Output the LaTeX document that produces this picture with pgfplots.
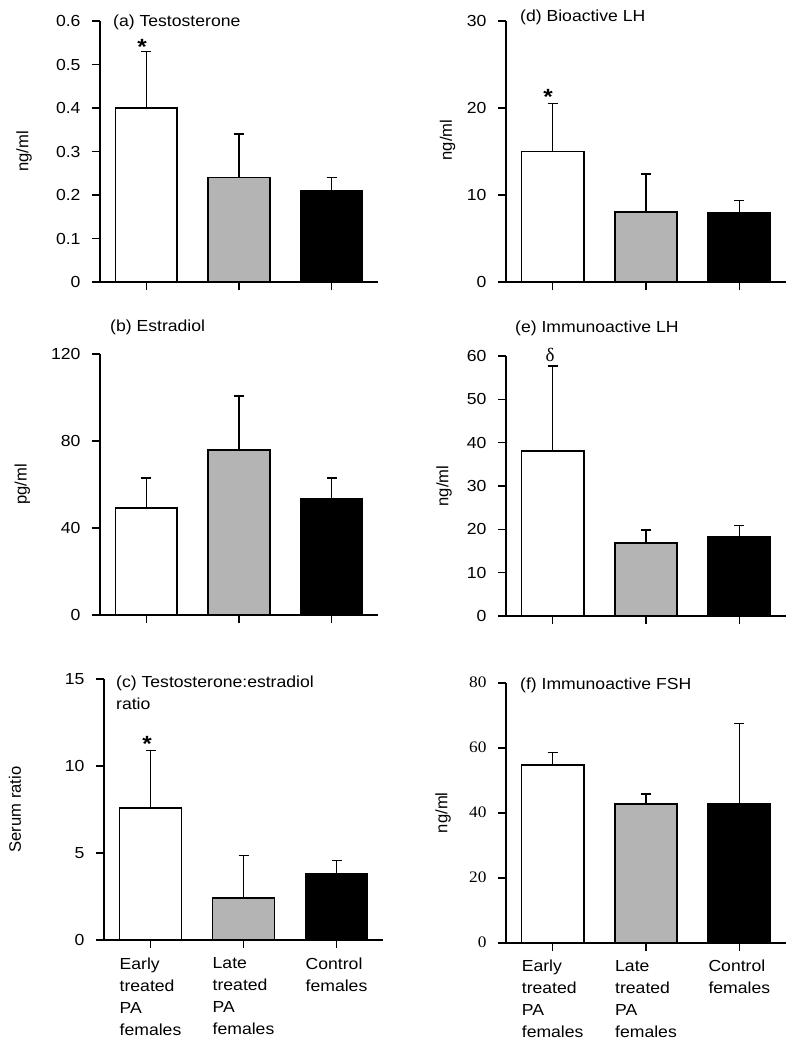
\documentclass[border=0pt]{standalone}
\usepackage{pgfplots}
\pgfplotsset{compat=1.18}
\usepackage{fontspec}
\setmainfont{Liberation Sans}[FakeStretch=1.1]
\newfontfamily\plainsans{Liberation Sans}
\newfontfamily\serifst{Liberation Serif}[FakeStretch=1.08]
\newfontfamily\serifplain{Liberation Serif}
\newcommand\fs{\fontsize{16}{22}\selectfont}
\definecolor{midgray}{RGB}{180,180,180}
\pgfplotsset{
 panel/.style={
  scale only axis, anchor=south west,
  xmin=-0.5, xmax=2.5, ymin=0,
  axis x line*=bottom, axis y line*=left,
  axis line style={-, line width=1.6pt, black},
  xtick={0,1,2}, xticklabels={,,},
  tick align=outside, major tick length=8pt,
  tick style={black, line width=1.6pt},
  ticklabel style={font=\fs},
  yticklabel style={xshift=-8pt},
  label style={font=\plainsans\fontsize{16.6}{20}\selectfont},
  ybar, bar width=0.667, bar shift=0pt,
  clip=false,
 },
 bb/.style={fill=#1, draw=black, line width=1.6pt,
  error bars/.cd, y dir=plus, y explicit,
  error bar style={line width=1.6pt, black},
  error mark options={rotate=90, black, mark size=5pt, line width=1.6pt}},
 botlabels/.style={xticklabels={{Early\\treated\\PA\\females},{Late\\treated\\PA\\females},{Control\\females}},
  xticklabel style={align=left, anchor=north, font=\fs, yshift=-6pt}},
}
\begin{document}
\begin{tikzpicture}
\useasboundingbox (0,0) rectangle (797pt,-1050pt);
% (a)
\begin{axis}[panel, at={(100pt,-282pt)}, width=278pt, height=261pt,
  ymax=0.6, ytick={0,0.1,0.2,0.3,0.4,0.5,0.6}, yticklabels={0,0.1,0.2,0.3,0.4,0.5,0.6},
  ylabel={ng/ml}, ylabel style={at={(axis description cs:-0.273,0.5)}, anchor=center}]
\addplot[bb=white] coordinates {(0,0.40) +- (0,0.13)};
\addplot[bb=midgray] coordinates {(1,0.24) +- (0,0.10)};
\addplot[bb=black] coordinates {(2,0.21) +- (0,0.03)};
\draw[line width=1.6pt] (rel axis cs:0,0) -- ++(-8pt,0);
\end{axis}
% (b)
\begin{axis}[panel, at={(100pt,-615pt)}, width=278pt, height=261pt,
  ymax=120, ytick={0,40,80,120}, yticklabels={0,40,80,120},
  ylabel={pg/ml}, ylabel style={at={(axis description cs:-0.279,0.5)}, anchor=center}]
\addplot[bb=white] coordinates {(0,49.3) +- (0,13.8)};
\addplot[bb=midgray] coordinates {(1,75.9) +- (0,24.8)};
\addplot[bb=black] coordinates {(2,53.3) +- (0,9.8)};
\draw[line width=1.6pt] (rel axis cs:0,0) -- ++(-8pt,0);
\end{axis}
% (c)
\begin{axis}[panel, botlabels, at={(104pt,-940pt)}, width=279pt, height=261pt,
  ymax=15, ytick={0,5,10,15}, yticklabels={0,5,10,15},
  ylabel={Serum ratio}, ylabel style={at={(axis description cs:-0.319,0.5)}, anchor=center}]
\addplot[bb=white] coordinates {(0,7.6) +- (0,3.3)};
\addplot[bb=midgray] coordinates {(1,2.4) +- (0,2.45)};
\addplot[bb=black] coordinates {(2,3.78) +- (0,0.8)};
\draw[line width=1.6pt] (rel axis cs:0,0) -- ++(-8pt,0);
\end{axis}
% (d)
\begin{axis}[panel, at={(506pt,-282pt)}, width=280pt, height=261pt,
  ymax=30, ytick={0,10,20,30}, yticklabels={0,10,20,30},
  ylabel={ng/ml}, ylabel style={at={(axis description cs:-0.209,0.544)}, anchor=center}]
\addplot[bb=white] coordinates {(0,15.0) +- (0,5.5)};
\addplot[bb=midgray] coordinates {(1,8.05) +- (0,4.35)};
\addplot[bb=black] coordinates {(2,7.95) +- (0,1.4)};
\draw[line width=1.6pt] (rel axis cs:0,0) -- ++(-8pt,0);
\end{axis}
% (e)
\begin{axis}[panel, at={(506pt,-616pt)}, width=280pt, height=260pt,
  ymax=60, ytick={0,10,20,30,40,50,60}, yticklabels={0,10,20,30,40,50,60},
  ylabel={ng/ml}, ylabel style={at={(axis description cs:-0.221,0.5)}, anchor=center}]
\addplot[bb=white] coordinates {(0,38.1) +- (0,19.6)};
\addplot[bb=midgray] coordinates {(1,16.9) +- (0,2.9)};
\addplot[bb=black] coordinates {(2,18.3) +- (0,2.6)};
\draw[line width=1.6pt] (rel axis cs:0,0) -- ++(-8pt,0);
\end{axis}
% (f)
\begin{axis}[panel, botlabels, at={(506pt,-942.7pt)}, width=280pt, height=260pt,
  ymax=80, ytick={0,20,40,60,80}, yticklabels={0,20,40,60,80},
  yticklabel style={font=\serifst\fs},
  ylabel={ng/ml}, ylabel style={at={(axis description cs:-0.225,0.5)}, anchor=center}]
\addplot[bb=white] coordinates {(0,54.7) +- (0,3.8)};
\addplot[bb=midgray] coordinates {(1,42.7) +- (0,3.0)};
\addplot[bb=black] coordinates {(2,42.7) +- (0,24.7)};
\draw[line width=1.6pt] (rel axis cs:0,0) -- ++(-8pt,0);
\end{axis}
% titles
\begin{scope}[every node/.style={font=\fs, inner sep=0pt, anchor=base west}]
\node at (113pt,-26pt) {(a) Testosterone};
\node at (520pt,-21pt) {(d) Bioactive LH};
\node at (110pt,-331pt) {(b) Estradiol};
\node at (515pt,-332.7pt) {(e) Immunoactive LH};
\node at (116pt,-687pt) {(c) Testosterone:estradiol};
\node at (116pt,-709pt) {ratio};
\node at (520pt,-689pt) {(f) Immunoactive FSH};
\end{scope}
% significance marks
\begin{scope}[every node/.style={inner sep=0pt, anchor=north}]
\node[font=\fontsize{22}{22}\selectfont\bfseries] at (142pt,-39pt) {*};
\node[font=\fontsize{22}{22}\selectfont\bfseries] at (548pt,-89pt) {*};
\node[font=\fontsize{22}{22}\selectfont\bfseries] at (147pt,-736pt) {*};
\node[font=\serifplain\fontsize{19}{19}\selectfont] at (550pt,-348pt) {δ};
\end{scope}
\end{tikzpicture}
\end{document}
